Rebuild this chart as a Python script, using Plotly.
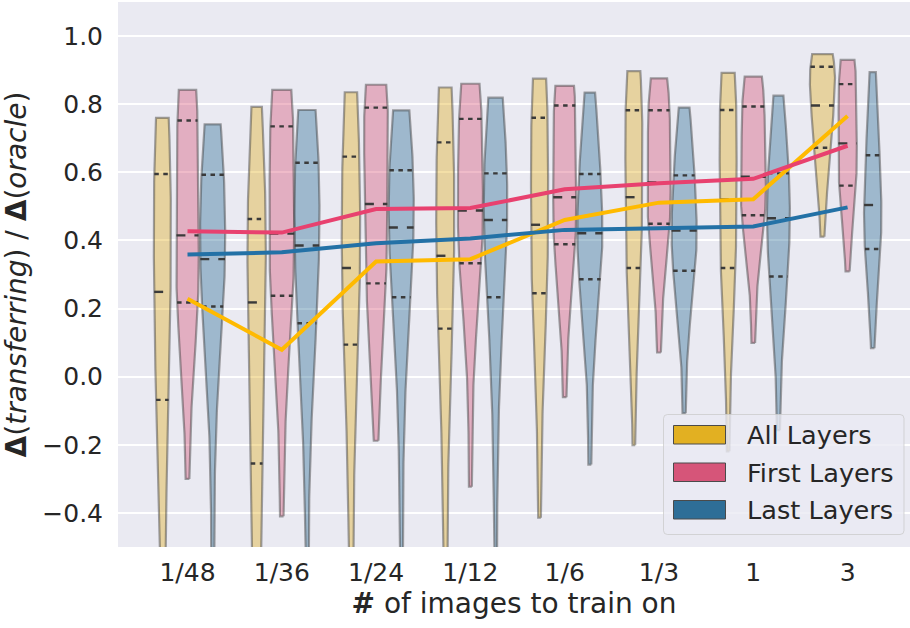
import numpy as np
import plotly.graph_objects as go

# ---------------------------------------------------------------- data
categories = ["1/48", "1/36", "1/24", "1/12", "1/6", "1/3", "1", "3"]
series_names = ["All Layers", "First Layers", "Last Layers"]

# per-run ratio scores for each training-set size (21 runs each)
all_layers = [
    [-0.95, -0.62, -0.42, -0.28, -0.16, -0.068, 0.01, 0.08, 0.14, 0.20, 0.249, 0.31, 0.38, 0.45, 0.52, 0.595, 0.64, 0.68, 0.71, 0.74, 0.76],
    [-0.90, -0.72, -0.58, -0.46, -0.35, -0.255, -0.15, -0.05, 0.05, 0.14, 0.218, 0.27, 0.32, 0.37, 0.42, 0.463, 0.52, 0.58, 0.65, 0.72, 0.792],
    [-1.00, -0.60, -0.35, -0.15, 0.00, 0.094, 0.15, 0.20, 0.25, 0.29, 0.319, 0.37, 0.43, 0.50, 0.57, 0.646, 0.70, 0.74, 0.78, 0.81, 0.835],
    [-1.00, -0.55, -0.30, -0.10, 0.05, 0.141, 0.19, 0.24, 0.28, 0.32, 0.355, 0.41, 0.48, 0.55, 0.62, 0.688, 0.73, 0.77, 0.80, 0.83, 0.849],
    [-0.414, -0.15, 0.00, 0.12, 0.19, 0.245, 0.29, 0.33, 0.37, 0.41, 0.446, 0.50, 0.56, 0.63, 0.70, 0.760, 0.79, 0.82, 0.845, 0.86, 0.875],
    [-0.201, 0.05, 0.16, 0.23, 0.28, 0.319, 0.36, 0.40, 0.44, 0.49, 0.527, 0.58, 0.63, 0.68, 0.73, 0.782, 0.81, 0.84, 0.865, 0.885, 0.897],
    [-0.219, 0.04, 0.15, 0.22, 0.28, 0.319, 0.36, 0.40, 0.44, 0.48, 0.520, 0.57, 0.62, 0.68, 0.73, 0.783, 0.81, 0.84, 0.86, 0.88, 0.892],
    [0.411, 0.52, 0.58, 0.62, 0.65, 0.672, 0.70, 0.73, 0.755, 0.775, 0.796, 0.82, 0.845, 0.87, 0.89, 0.910, 0.92, 0.93, 0.937, 0.943, 0.947],
]
first_layers = [
    [-0.30, -0.05, 0.08, 0.14, 0.18, 0.218, 0.26, 0.30, 0.34, 0.38, 0.415, 0.46, 0.52, 0.59, 0.67, 0.752, 0.78, 0.80, 0.82, 0.835, 0.842],
    [-0.41, -0.12, 0.03, 0.12, 0.19, 0.2375, 0.28, 0.32, 0.36, 0.39, 0.42, 0.47, 0.53, 0.60, 0.67, 0.735, 0.77, 0.80, 0.82, 0.835, 0.842],
    [-0.188, 0.02, 0.12, 0.18, 0.23, 0.274, 0.32, 0.37, 0.42, 0.46, 0.507, 0.56, 0.61, 0.67, 0.73, 0.790, 0.81, 0.825, 0.84, 0.85, 0.857],
    [-0.323, 0.00, 0.15, 0.24, 0.30, 0.333, 0.37, 0.40, 0.43, 0.46, 0.488, 0.53, 0.58, 0.64, 0.70, 0.757, 0.79, 0.81, 0.83, 0.85, 0.860],
    [-0.06, 0.15, 0.25, 0.31, 0.355, 0.389, 0.42, 0.45, 0.48, 0.505, 0.527, 0.57, 0.62, 0.68, 0.74, 0.796, 0.81, 0.825, 0.835, 0.845, 0.854],
    [0.071, 0.24, 0.33, 0.38, 0.42, 0.449, 0.47, 0.50, 0.52, 0.545, 0.570, 0.61, 0.65, 0.69, 0.74, 0.782, 0.80, 0.82, 0.84, 0.86, 0.876],
    [0.099, 0.28, 0.37, 0.42, 0.45, 0.474, 0.50, 0.52, 0.545, 0.565, 0.587, 0.62, 0.66, 0.70, 0.75, 0.793, 0.81, 0.83, 0.85, 0.87, 0.881],
    [0.309, 0.42, 0.48, 0.51, 0.54, 0.561, 0.59, 0.62, 0.645, 0.665, 0.685, 0.71, 0.74, 0.78, 0.82, 0.859, 0.875, 0.89, 0.905, 0.92, 0.930],
]
last_layers = [
    [-0.75, -0.30, -0.08, 0.05, 0.14, 0.206, 0.24, 0.27, 0.30, 0.32, 0.345, 0.38, 0.43, 0.48, 0.54, 0.593, 0.63, 0.66, 0.69, 0.72, 0.741],
    [-0.85, -0.35, -0.12, 0.02, 0.10, 0.157, 0.21, 0.26, 0.31, 0.35, 0.385, 0.43, 0.48, 0.53, 0.58, 0.628, 0.67, 0.70, 0.73, 0.76, 0.783],
    [-0.90, -0.40, -0.10, 0.07, 0.17, 0.233, 0.28, 0.33, 0.37, 0.40, 0.438, 0.47, 0.51, 0.54, 0.57, 0.606, 0.64, 0.68, 0.72, 0.75, 0.782],
    [-0.95, -0.45, -0.15, 0.05, 0.16, 0.233, 0.29, 0.35, 0.40, 0.43, 0.460, 0.49, 0.52, 0.55, 0.575, 0.597, 0.64, 0.69, 0.74, 0.78, 0.819],
    [-0.258, 0.00, 0.12, 0.20, 0.25, 0.286, 0.32, 0.35, 0.38, 0.40, 0.421, 0.45, 0.49, 0.52, 0.56, 0.595, 0.64, 0.69, 0.74, 0.79, 0.834],
    [-0.107, 0.10, 0.19, 0.24, 0.28, 0.311, 0.34, 0.37, 0.39, 0.41, 0.429, 0.46, 0.49, 0.52, 0.555, 0.591, 0.63, 0.67, 0.71, 0.75, 0.790],
    [-0.157, 0.06, 0.16, 0.22, 0.26, 0.294, 0.33, 0.37, 0.40, 0.435, 0.465, 0.49, 0.52, 0.545, 0.57, 0.597, 0.64, 0.69, 0.74, 0.79, 0.825],
    [0.084, 0.22, 0.28, 0.32, 0.35, 0.375, 0.40, 0.43, 0.455, 0.48, 0.504, 0.53, 0.56, 0.59, 0.62, 0.650, 0.70, 0.75, 0.80, 0.85, 0.894],
]

# average score per training-set size
mean_all = [0.229, 0.079, 0.338, 0.345, 0.460, 0.511, 0.521, 0.765]
mean_first = [0.427, 0.423, 0.492, 0.495, 0.550, 0.568, 0.581, 0.678]
mean_last = [0.359, 0.365, 0.392, 0.406, 0.431, 0.435, 0.441, 0.497]

y_ticks = [-0.4, -0.2, 0.0, 0.2, 0.4, 0.6, 0.8, 1.0]
y_tick_labels = ["\u22120.4", "\u22120.2", "0.0", "0.2", "0.4", "0.6", "0.8", "1.0"]

# ---------------------------------------------------------------- style
patch_colors = ["#E2B022", "#D65579", "#2E6E97"]
line_colors = ["#FFBA00", "#E8416F", "#2371A6"]
bg = "#EAEAF2"
inner_gray = "#3a3a3a"
FONT = "DejaVu Sans"

PX_W, PX_H = 910, 628
M_L, M_R, M_T, M_B = 118, 0, 2, 81
X_RANGE = [-0.737, 7.662]
Y_RANGE = [-0.5, 1.1]

HUE_WIDTH = 0.8 / 3          # slot width of each violin within a group
HALF_W = HUE_WIDTH / 2
offsets = [-HUE_WIDTH, 0.0, HUE_WIDTH]


def rgba(hex_color, a):
    h = hex_color.lstrip("#")
    r, g, b = (int(h[i:i + 2], 16) for i in (0, 2, 4))
    return f"rgba({r},{g},{b},{a})"


def gaussian_kde(sample, grid):
    s = np.asarray(sample, dtype=float)
    bw = s.std(ddof=1) * len(s) ** (-0.2)   # Scott's rule
    z = (grid[:, None] - s[None, :]) / bw
    return np.exp(-0.5 * z ** 2).sum(axis=1) / (len(s) * bw * np.sqrt(2 * np.pi))


groups = [all_layers, first_layers, last_layers]

# densities on a grid cut at the data range; area scaling within each size group
dens = {}
for h, grp in enumerate(groups):
    for i, sample in enumerate(grp):
        grid = np.linspace(min(sample), max(sample), 200)
        dens[(h, i)] = (grid, gaussian_kde(sample, grid))
group_peak = [max(dens[(h, i)][1].max() for h in range(3)) for i in range(len(categories))]


def half_widths(h, i):
    grid, d = dens[(h, i)]
    return grid, d / group_peak[i] * HALF_W


fig = go.Figure()

for h, grp in enumerate(groups):
    for i, sample in enumerate(grp):
        grid, w = half_widths(h, i)
        c = i + offsets[h]
        xs = np.concatenate([c + w, (c - w)[::-1], [c + w[0]]])
        ys = np.concatenate([grid, grid[::-1], [grid[0]]])
        fig.add_trace(go.Scatter(
            x=xs, y=ys, mode="lines", fill="toself",
            fillcolor=rgba(patch_colors[h], 0.4),
            line=dict(color=rgba(inner_gray, 0.45), width=2.2),
            hoverinfo="skip", showlegend=False))

# quartile / median lines inside each violin
for h, grp in enumerate(groups):
    for i, sample in enumerate(grp):
        grid, w = half_widths(h, i)
        c = i + offsets[h]
        q1, med, q3 = np.percentile(sample, [25, 50, 75])
        for q, dash in ((q1, "4.5px,4.5px"), (med, "9px,9px"), (q3, "4.5px,4.5px")):
            hw = float(np.interp(q, grid, w))
            fig.add_trace(go.Scatter(
                x=[c - hw, c + hw], y=[q, q], mode="lines",
                line=dict(color=inner_gray, width=2.4, dash=dash),
                hoverinfo="skip", showlegend=False))

# mean trend per configuration
for h, means in enumerate([mean_all, mean_first, mean_last]):
    fig.add_trace(go.Scatter(
        x=list(range(len(categories))), y=means, mode="lines",
        line=dict(color=line_colors[h], width=4),
        name=series_names[h], showlegend=False))

# ---------------------------------------------------------------- legend box
plot_w = PX_W - M_L - M_R
plot_h = PX_H - M_T - M_B


def px_x(px):
    return (px - M_L) / plot_w


def px_y(py):
    return (PX_H - M_B - py) / plot_h


bx0, bx1, by0, by1, r = 663.5, 904.0, 414.5, 534.5, 4.0
rx, ry = r / plot_w, r / plot_h
X0, X1, Y0, Y1 = px_x(bx0), px_x(bx1), px_y(by1), px_y(by0)
path = (f"M {X0+rx},{Y0} L {X1-rx},{Y0} Q {X1},{Y0} {X1},{Y0+ry} "
        f"L {X1},{Y1-ry} Q {X1},{Y1} {X1-rx},{Y1} L {X0+rx},{Y1} "
        f"Q {X0},{Y1} {X0},{Y1-ry} L {X0},{Y0+ry} Q {X0},{Y0} {X0+rx},{Y0} Z")
shapes = [dict(type="path", path=path, xref="paper", yref="paper",
               fillcolor="rgba(234,234,242,0.8)", line=dict(color="rgba(204,204,204,0.8)", width=1),
               layer="above")]
annotations = []
row_tops = [425.5, 463.0, 500.5]
for h, name in enumerate(series_names):
    top = row_tops[h]
    shapes.append(dict(type="rect", xref="paper", yref="paper",
                       x0=px_x(673.5), x1=px_x(725.5), y0=px_y(top + 18.5), y1=px_y(top),
                       fillcolor=patch_colors[h], line=dict(color="#4a4a4a", width=1),
                       layer="above"))
    annotations.append(dict(text=name, xref="paper", yref="paper",
                            x=px_x(745), y=px_y(top + 9.5), xanchor="left", yanchor="middle",
                            showarrow=False, font=dict(family=FONT, size=25.6, color="#262626")))

fig.update_layout(
    width=PX_W, height=PX_H,
    margin=dict(l=M_L, r=M_R, t=M_T, b=M_B),
    plot_bgcolor=bg, paper_bgcolor="white",
    showlegend=False,
    font=dict(family=FONT, size=25, color="#262626"),
    shapes=shapes, annotations=annotations,
)
fig.update_xaxes(
    range=X_RANGE, tickvals=list(range(len(categories))), ticktext=categories,
    showgrid=False, zeroline=False, showline=False, ticks="",
    ticklabelstandoff=8,
    tickfont=dict(family=FONT, size=25, color="#262626"),
    title=dict(text="<b>#</b> of images to train on",
               font=dict(family=FONT, size=28, color="#262626"), standoff=6),
)
fig.update_yaxes(
    range=Y_RANGE, tickvals=y_ticks, ticktext=y_tick_labels,
    showgrid=True, gridcolor="white", gridwidth=1.6,
    zeroline=False, showline=False, ticks="",
    ticklabelstandoff=14,
    tickfont=dict(family=FONT, size=25, color="#262626"),
    title=dict(text="<b>\u0394</b>(<i>transferring</i>) / <b>\u0394</b>(<i>oracle</i>)",
               font=dict(family=FONT, size=28, color="#262626"), standoff=10),
)

fig.write_html("out.html")
